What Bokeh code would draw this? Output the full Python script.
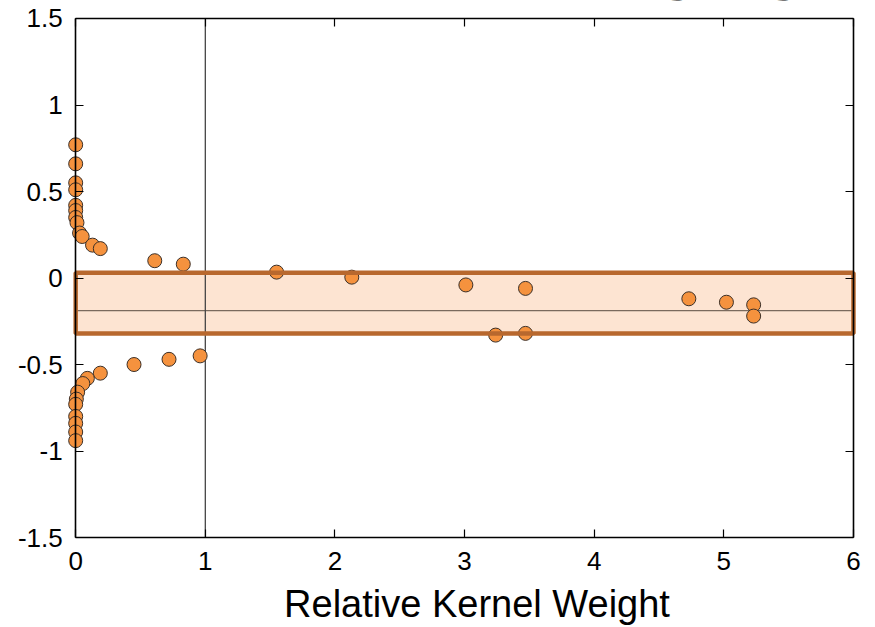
from bokeh.plotting import figure
from bokeh.models import Range1d, LinearAxis, FixedTicker
from bokeh.core.properties import value as V
from bokeh.embed import file_html
from bokeh.resources import INLINE

# ---- data -------------------------------------------------------------
weight = [0.0, 0.0, 0.0, 0.0, 0.0, 0.0, 0.0, 0.01, 0.03, 0.05, 0.13, 0.19, 0.61, 0.83,
          0.96, 0.72, 0.45, 0.19, 0.09, 0.055, 0.015, 0.005, 0.0, 0.0, 0.0, 0.0, 0.0,
          1.55, 2.13, 3.01, 3.47, 3.24, 3.47, 4.73, 5.02, 5.23, 5.23]
residual = [0.77, 0.66, 0.55, 0.51, 0.42, 0.39, 0.35, 0.32, 0.26, 0.24, 0.19, 0.17, 0.10, 0.08,
            -0.45, -0.47, -0.50, -0.55, -0.58, -0.61, -0.66, -0.70, -0.73, -0.80, -0.84, -0.89, -0.94,
            0.034, 0.005, -0.04, -0.06, -0.33, -0.32, -0.12, -0.14, -0.155, -0.22]
band_low = -0.32
band_high = 0.03
band_center = -0.188
reference_weight = 1.0
x_ticks = [0, 1, 2, 3, 4, 5, 6]
y_ticks = [-1.5, -1.0, -0.5, 0.0, 0.5, 1.0, 1.5]
y_tick_labels = ["-1.5", "-1", "-0.5", "0", "0.5", "1", "1.5"]
x_label = "Relative Kernel Weight"
title_text = "Kernel Smoothing Weights"

FONT = "Liberation Sans"
x0, x1 = x_ticks[0], x_ticks[-1]
y0, y1 = y_ticks[0], y_ticks[-1]

# The data frame fills the whole page so that markers on the x=0 edge are not cut.
p = figure(width=875, height=627, output_backend="svg", toolbar_location=None,
           x_range=Range1d(-0.580, 6.170), y_range=Range1d(-2.020, 1.604),
           min_border=0, x_axis_location=None, y_axis_location=None)
p.outline_line_color = None
p.xgrid.visible = False
p.ygrid.visible = False
p.background_fill_color = "white"
p.border_fill_color = "white"

# band
p.quad(left=x0, right=x1, bottom=band_low, top=band_high,
       fill_color="#fde4d2", line_color=None)
p.segment(x0=x0, y0=band_center, x1=x1, y1=band_center,
          line_color="#7a6a5e", line_width=1.3)
p.segment(x0=reference_weight, y0=y0, x1=reference_weight, y1=y1,
          line_color="#444444", line_width=1.3)

p.scatter(weight, residual, size=14, fill_color="#f5923e", line_color="#3c3028", line_width=1)

p.quad(left=x0, right=x1, bottom=band_low, top=band_high,
       fill_color=None, line_color="#b8682e", line_width=4.5)


def style(ax, labels=True):
    ax.axis_line_color = "black"
    ax.axis_line_width = 1.6
    ax.major_tick_in = 8
    ax.major_tick_out = 0
    ax.minor_tick_in = 0
    ax.minor_tick_out = 0
    ax.major_tick_line_color = "black"
    ax.major_tick_line_width = 1.2
    ax.major_label_text_font = FONT
    ax.major_label_text_font_size = "26px"
    ax.major_label_text_color = "black"
    if not labels:
        ax.major_label_overrides = {t: "" for t in ax.ticker.ticks}
        ax.major_label_standoff = 0


xb = LinearAxis(ticker=FixedTicker(ticks=x_ticks), bounds=(x0, x1), fixed_location=y0)
style(xb)
xb.major_label_standoff = 14
p.add_layout(xb, "below")

xt = LinearAxis(ticker=FixedTicker(ticks=x_ticks), bounds=(x0, x1), fixed_location=y1)
style(xt, labels=False)
p.add_layout(xt, "above")

yl = LinearAxis(ticker=FixedTicker(ticks=y_ticks), bounds=(y0, y1), fixed_location=x0)
style(yl)
yl.major_label_standoff = 13
yl.major_label_overrides = {t: s for t, s in zip(y_ticks, y_tick_labels)}
p.add_layout(yl, "left")

yr = LinearAxis(ticker=FixedTicker(ticks=y_ticks), bounds=(y0, y1), fixed_location=x1)
style(yr, labels=False)
p.add_layout(yr, "right")

# x axis title
p.text(x=[3.096], y=[-1.882], text=[x_label], text_font=V(FONT),
       text_font_size="38px", text_baseline="middle", text_align="center",
       text_color="black")

# chart title, mostly above the visible page (only descenders show)
p.text(x=[2.08], y=[1.728], text=[title_text], text_font=V(FONT),
       text_font_size="40px", text_font_style="bold",
       text_baseline="alphabetic", text_align="left", text_color="black")

open("out.html", "w").write(file_html(p, INLINE))
